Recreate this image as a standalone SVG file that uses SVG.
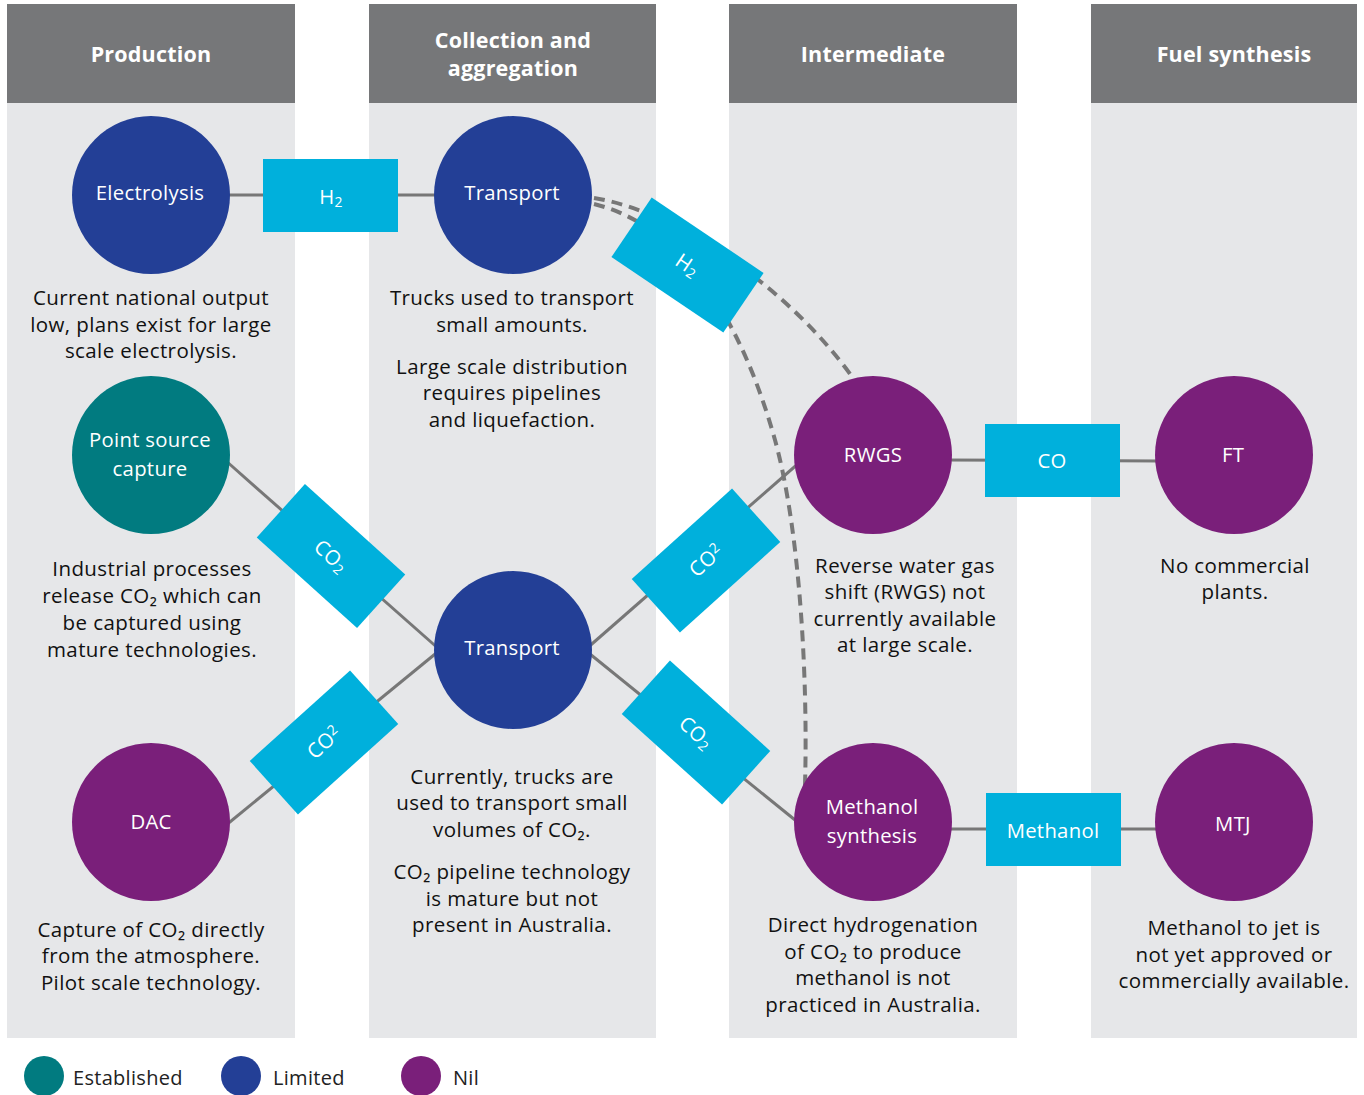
<svg xmlns="http://www.w3.org/2000/svg" width="1364" height="1095" viewBox="0 0 1364 1095">
<style>
.col{fill:#e6e7e9}
.hdr{fill:#767779}
.ht{font-family:"Open Sans","Noto Sans",sans-serif;font-weight:bold;font-size:21.5px;fill:#fff;text-anchor:middle;letter-spacing:0.2px}
.ct{font-family:"Open Sans","Noto Sans",sans-serif;font-size:20.3px;fill:#fff;text-anchor:middle;letter-spacing:0.3px}
.dt{font-family:"Open Sans","Noto Sans",sans-serif;font-size:20.5px;fill:#111;text-anchor:middle;letter-spacing:0.4px}
.lt{font-family:"Open Sans","Noto Sans",sans-serif;font-size:20px;fill:#222;letter-spacing:0.3px}
.bx{fill:#00b0dc}
.ln{stroke:#777;stroke-width:3;fill:none}
.ds{stroke:#777;stroke-width:4;fill:none;stroke-dasharray:11 7}
.est{fill:#017b80}
.lim{fill:#233f96}
.nil{fill:#7a1f7a}
</style>
<rect width="1364" height="1095" fill="#fff"/>
<g id="columns">
<rect class="col" x="7" y="4" width="288" height="1034"/>
<rect class="col" x="369" y="4" width="287" height="1034"/>
<rect class="col" x="729" y="4" width="288" height="1034"/>
<rect class="col" x="1091" y="4" width="266" height="1034"/>
<rect class="hdr" x="7" y="4" width="288" height="99"/>
<rect class="hdr" x="369" y="4" width="287" height="99"/>
<rect class="hdr" x="729" y="4" width="288" height="99"/>
<rect class="hdr" x="1091" y="4" width="266" height="99"/>
<text class="ht" x="151" y="62">Production</text>
<text class="ht" x="513" y="48">Collection and</text>
<text class="ht" x="513" y="76">aggregation</text>
<text class="ht" x="873" y="62">Intermediate</text>
<text class="ht" x="1234" y="62">Fuel synthesis</text>
</g>
<g id="connectors">
<line class="ln" x1="225" y1="195" x2="440" y2="195"/>
<line class="ln" x1="225" y1="460" x2="440" y2="650"/>
<line class="ln" x1="225" y1="826" x2="440" y2="650"/>
<line class="ln" x1="585" y1="650" x2="800" y2="462"/>
<line class="ln" x1="585" y1="650" x2="800" y2="824"/>
<line class="ln" x1="945" y1="460" x2="1160" y2="461"/>
<line class="ln" x1="945" y1="829" x2="1160" y2="829"/>
<path class="ds" d="M594,198 C680,212 790,290 853,378"/>
<path class="ds" d="M594,204 C680,225 740,315 775,440 C800,530 808,680 805,785"/>
</g>
<g id="box-h2-top"><rect class="bx" x="263" y="159" width="135" height="73"/><text class="ct" x="331" y="204">H<tspan font-size="14" dy="3">2</tspan></text></g>
<g id="box-h2-diag" transform="translate(687.5,265) rotate(34)"><rect class="bx" x="-67.5" y="-36" width="135" height="72"/><text class="ct" x="0" y="7">H<tspan font-size="14" dy="3">2</tspan></text></g>
<g id="box-co2-a" transform="translate(331,556) rotate(42)"><rect class="bx" x="-67.5" y="-36" width="135" height="72"/><text class="ct" x="0" y="7">CO<tspan font-size="14" dy="3">2</tspan></text></g>
<g id="box-co2-b" transform="translate(324,742.5) rotate(-42)"><rect class="bx" x="-67.5" y="-36" width="135" height="72"/><text class="ct" x="0" y="7">CO<tspan font-size="14" dy="-6">2</tspan></text></g>
<g id="box-co2-c" transform="translate(706,560.5) rotate(-42)"><rect class="bx" x="-67.5" y="-36" width="135" height="72"/><text class="ct" x="0" y="7">CO<tspan font-size="14" dy="-6">2</tspan></text></g>
<g id="box-co2-d" transform="translate(696,732.5) rotate(42)"><rect class="bx" x="-67.5" y="-36" width="135" height="72"/><text class="ct" x="0" y="7">CO<tspan font-size="14" dy="3">2</tspan></text></g>
<g id="box-co"><rect class="bx" x="985" y="424" width="135" height="73"/><text class="ct" x="1052" y="468">CO</text></g>
<g id="box-methanol"><rect class="bx" x="986" y="793" width="135" height="73"/><text class="ct" x="1053" y="838">Methanol</text></g>
<g id="node-electrolysis"><circle class="lim" cx="151" cy="195" r="79"/><text class="ct" x="150" y="200">Electrolysis</text>
<text class="dt" x="151" y="305">Current national output</text><text class="dt" x="151" y="332">low, plans exist for large</text><text class="dt" x="151" y="358">scale electrolysis.</text></g>
<g id="node-transport-h2"><circle class="lim" cx="513" cy="195" r="79"/><text class="ct" x="512" y="200">Transport</text>
<text class="dt" x="512" y="305">Trucks used to transport</text><text class="dt" x="512" y="332">small amounts.</text>
<text class="dt" x="512" y="374">Large scale distribution</text><text class="dt" x="512" y="400">requires pipelines</text><text class="dt" x="512" y="427">and liquefaction.</text></g>
<g id="node-point-source"><circle class="est" cx="151" cy="455" r="79"/><text class="ct" x="150" y="447">Point source</text><text class="ct" x="150" y="476">capture</text>
<text class="dt" x="152" y="576">Industrial processes</text><text class="dt" x="152" y="603">release CO₂ which can</text><text class="dt" x="152" y="630">be captured using</text><text class="dt" x="152" y="657">mature technologies.</text></g>
<g id="node-transport-co2"><circle class="lim" cx="513" cy="650" r="79"/><text class="ct" x="512" y="655">Transport</text>
<text class="dt" x="512" y="784">Currently, trucks are</text><text class="dt" x="512" y="810">used to transport small</text><text class="dt" x="512" y="837">volumes of CO₂.</text>
<text class="dt" x="512" y="879">CO₂ pipeline technology</text><text class="dt" x="512" y="906">is mature but not</text><text class="dt" x="512" y="932">present in Australia.</text></g>
<g id="node-dac"><circle class="nil" cx="151" cy="822" r="79"/><text class="ct" x="151" y="829">DAC</text>
<text class="dt" x="151" y="937">Capture of CO₂ directly</text><text class="dt" x="151" y="963">from the atmosphere.</text><text class="dt" x="151" y="990">Pilot scale technology.</text></g>
<g id="node-rwgs"><circle class="nil" cx="873" cy="455" r="79"/><text class="ct" x="873" y="462">RWGS</text>
<text class="dt" x="905" y="573">Reverse water gas</text><text class="dt" x="905" y="599">shift (RWGS) not</text><text class="dt" x="905" y="626">currently available</text><text class="dt" x="905" y="652">at large scale.</text></g>
<g id="node-methanol-synthesis"><circle class="nil" cx="873" cy="822" r="79"/><text class="ct" x="872" y="814">Methanol</text><text class="ct" x="872" y="843">synthesis</text>
<text class="dt" x="873" y="932">Direct hydrogenation</text><text class="dt" x="873" y="959">of CO₂ to produce</text><text class="dt" x="873" y="985">methanol is not</text><text class="dt" x="873" y="1012">practiced in Australia.</text></g>
<g id="node-ft"><circle class="nil" cx="1234" cy="455" r="79"/><text class="ct" x="1233" y="462">FT</text>
<text class="dt" x="1235" y="573">No commercial</text><text class="dt" x="1235" y="599">plants.</text></g>
<g id="node-mtj"><circle class="nil" cx="1234" cy="822" r="79"/><text class="ct" x="1233" y="831">MTJ</text>
<text class="dt" x="1234" y="935">Methanol to jet is</text><text class="dt" x="1234" y="962">not yet approved or</text><text class="dt" x="1234" y="988">commercially available.</text></g>
<g id="legend">
<circle class="est" cx="44" cy="1076" r="20"/><text class="lt" x="73" y="1085">Established</text>
<circle class="lim" cx="241" cy="1076" r="20"/><text class="lt" x="273" y="1085">Limited</text>
<circle class="nil" cx="421" cy="1076" r="20"/><text class="lt" x="453" y="1085">Nil</text>
</g>
</svg>
